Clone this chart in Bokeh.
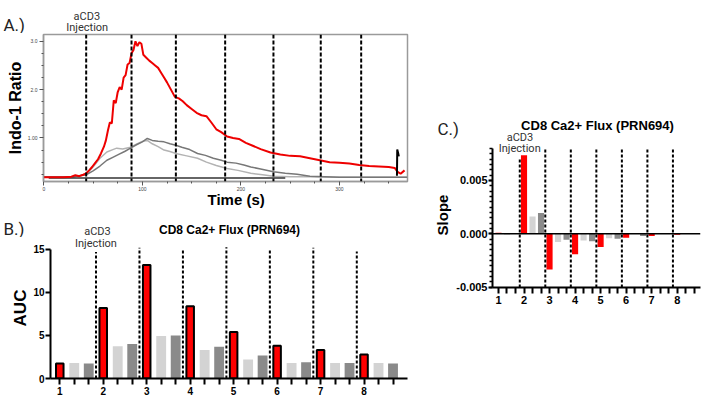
from bokeh.plotting import figure
from bokeh.layouts import row, column
from bokeh.models import Range1d, FixedTicker, Span, Title
from bokeh.core.properties import value
from bokeh.embed import file_html
from bokeh.resources import INLINE

# ---------------- Panel A: Indo-1 ratio traces ----------------
red_time = [0, 10, 20, 28, 32, 36, 40, 43, 46, 49, 52, 55, 58, 61, 63, 65, 67, 69, 71, 73,
            75, 77, 79, 81, 83, 85, 87, 89, 91, 93, 95, 97, 99, 101, 104, 107, 110, 113, 116, 119,
            122, 125, 129, 133, 137, 141, 145, 150, 155, 160, 165, 170, 175, 180, 186, 192, 198, 205, 212, 220,
            230, 240, 250, 260, 270, 280, 290, 300, 310, 320, 330, 340, 350, 356, 359, 362, 366]
red_ratio = [0.19, 0.19, 0.19, 0.20, 0.23, 0.21, 0.24, 0.27, 0.33, 0.40, 0.48, 0.56, 0.68, 0.82, 0.95, 1.15, 1.32, 1.30, 1.78, 1.72,
             1.95, 2.05, 2.00, 2.25, 2.30, 2.52, 2.55, 2.75, 2.82, 3.00, 2.90, 2.98, 2.95, 2.72, 2.66, 2.60, 2.55, 2.50, 2.45, 2.35,
             2.25, 2.15, 2.00, 1.85, 1.82, 1.76, 1.68, 1.60, 1.52, 1.47, 1.45, 1.32, 1.18, 1.12, 1.03, 1.00, 0.98, 0.90, 0.84, 0.77,
             0.70, 0.66, 0.63, 0.62, 0.58, 0.54, 0.50, 0.49, 0.47, 0.44, 0.42, 0.41, 0.40, 0.38, 0.30, 0.26, 0.33]

dgrey_time = [0, 30, 43, 50, 57, 64, 70, 76, 82, 88, 94, 100, 105, 110, 116, 122, 128, 134, 140, 148,
              156, 164, 172, 180, 186, 195, 203, 210, 220, 233, 245, 257, 270, 285, 300, 320, 340, 369]
dgrey_ratio = [0.20, 0.20, 0.24, 0.32, 0.42, 0.54, 0.60, 0.66, 0.72, 0.79, 0.86, 0.92, 0.99, 0.95, 0.93, 0.92, 0.88, 0.85, 0.81, 0.76,
               0.68, 0.64, 0.58, 0.54, 0.50, 0.48, 0.44, 0.40, 0.36, 0.30, 0.27, 0.25, 0.21, 0.20, 0.19, 0.19, 0.19, 0.19]

lgrey_time = [0, 30, 43, 50, 57, 64, 70, 74, 80, 88, 95, 100, 105, 110, 116, 122, 128, 134, 145, 156,
              165, 175, 186, 197, 210, 222, 233, 250, 270, 300, 340, 369]
lgrey_ratio = [0.20, 0.20, 0.25, 0.40, 0.58, 0.71, 0.76, 0.79, 0.77, 0.81, 0.88, 0.93, 0.95, 0.88, 0.82, 0.75, 0.72, 0.68, 0.63, 0.58,
               0.50, 0.43, 0.37, 0.33, 0.27, 0.24, 0.21, 0.20, 0.20, 0.19, 0.19, 0.19]

base_time = [5, 245]
base_ratio = [0.17, 0.17]
spike_time = [358.3, 358.6, 359.6, 360.2]
spike_ratio = [0.22, 0.76, 0.68, 0.62]

injection_times = [43, 89, 134, 184, 233, 281, 322]
a_yticks = [1, 2, 3]
a_ytick_labels = ["1.00", "2.0", "3.0"]
a_xticks = [0, 100, 200, 300]

# ---------------- Panels B and C ----------------
groups = ["1", "2", "3", "4", "5", "6", "7", "8"]
auc_red = [1.74, 8.2, 13.2, 8.4, 5.4, 3.8, 3.3, 2.8]
auc_lgrey = [1.8, 3.75, 4.94, 3.3, 2.2, 1.8, 1.8, 1.8]
auc_dgrey = [1.74, 4.0, 5.0, 3.7, 2.66, 1.9, 1.8, 1.74]
auc_line_tops = [14.7, 15.2, 14.9, 15.25, 15.0, 15.2, 14.75]
auc_yticks = [0, 5, 10, 15]

slope_red = [0.0001, 0.00738, -0.00336, -0.00193, -0.00125, -0.00037, -0.0002, -0.0001]
slope_lgrey = [-0.0001, 0.00162, -0.00078, -0.00062, -0.00041, 0.00008, -0.00003, 0.00002]
slope_dgrey = [0.00003, 0.00196, -0.00056, -0.00069, -0.00047, -0.0002, 0.00003, 0.00002]
slope_line_tops = [0.0071, 0.0079, 0.0079, 0.0079, 0.0079, 0.0079, 0.0079]
slope_yticks = [-0.005, 0.0, 0.005]
slope_ytick_labels = ["-0.005", "0.000", "0.005"]

panel_title = "CD8 Ca2+ Flux (PRN694)"

RED = "#ff0000"
LGREY = "#d3d3d3"
DGREY = "#8a8a8a"
BOLD_FONT = "Liberation Sans"
LIGHT_FONT = "Roboto"

n = len(groups)
red_pos = [3 * i + 1 for i in range(n)]
lg_pos = [3 * i + 2 for i in range(n)]
dg_pos = [3 * i + 3 for i in range(n)]
all_pos = list(range(1, 3 * n + 1))
bound_pos = [3 * i + 0.5 for i in range(1, n)]
x_overrides = {p: "" for p in all_pos}
for p, g in zip(red_pos, groups):
    x_overrides[p] = g


def text_strip(width, height):
    s = figure(width=width, height=height, x_range=Range1d(0, width), y_range=Range1d(height, 0),
               output_backend="svg", toolbar_location=None, min_border=0,
               x_axis_location=None, y_axis_location=None, frame_align=False)
    s.grid.visible = False
    s.outline_line_color = None
    s.title.visible = False
    return s


def put_text(fig, x, y, s, size, font=BOLD_FONT, bold=False, align="center", color="black"):
    fig.text(x=[x], y=[y], text=[s], text_font=value(font), text_font_size=f"{size}px",
             text_font_style="bold" if bold else "normal", text_align=align,
             text_baseline="middle", text_color=color)


def bold_axis_label(ax, text, size, standoff):
    ax.axis_label = text
    ax.axis_label_text_font = BOLD_FONT
    ax.axis_label_text_font_style = "bold"
    ax.axis_label_text_font_size = f"{size}px"
    ax.axis_label_text_color = "black"
    ax.axis_label_standoff = standoff


# ================= Header strip A (page y 0-33) =================
ha = text_strip(420, 33)
put_text(ha, 3, 24, "A.)", 17, font=LIGHT_FONT, align="left", color="#222222")
put_text(ha, 86.3, 16, "aCD3", 11, font=LIGHT_FONT, color="#333333")
put_text(ha, 86.7, 27, "Injection", 11, font=LIGHT_FONT, color="#333333")

# ================= Figure A (page y 33-210) =================
pa = figure(width=420, height=177, x_range=Range1d(-0.3, 369), y_range=Range1d(0.10, 3.14),
            output_backend="svg", toolbar_location=None, frame_align=False,
            min_border_left=43, min_border_right=13, min_border_top=1, min_border_bottom=29)
pa.grid.visible = False
pa.title.visible = False
pa.outline_line_color = "#9a9a9a"
pa.outline_line_width = 1.5

pa.line(lgrey_time, lgrey_ratio, color="#b3b3b3", line_width=1.5)
pa.line(dgrey_time, dgrey_ratio, color="#777777", line_width=1.5)
pa.line(base_time, base_ratio, color="#333333", line_width=1.5)
pa.line(red_time, red_ratio, color="#ee0000", line_width=2)
pa.line(spike_time, spike_ratio, color="black", line_width=2)
for t in injection_times:
    pa.add_layout(Span(location=t, dimension="height", line_color="black", line_width=2, line_dash="4 2"))

pa.yaxis.ticker = FixedTicker(ticks=a_yticks, minor_ticks=[0.25, 0.5, 0.75, 1.25, 1.5, 1.75, 2.25, 2.5, 2.75])
pa.yaxis.major_label_overrides = dict(zip(a_yticks, a_ytick_labels))
pa.xaxis.ticker = FixedTicker(ticks=a_xticks, minor_ticks=[25, 50, 75, 125, 150, 175, 225, 250, 275, 325, 350])
for ax in (pa.xaxis[0], pa.yaxis[0]):
    ax.axis_line_color = "#9a9a9a"
    ax.axis_line_width = 1.5
    ax.major_tick_line_color = "#555555"
    ax.minor_tick_line_color = "#555555"
    ax.major_tick_out = 4
    ax.major_tick_in = 0
    ax.minor_tick_out = 2
    ax.minor_tick_in = 0
    ax.major_label_text_font_size = "5px"
    ax.major_label_text_color = "#444444"
    ax.major_label_standoff = 2
pa.xaxis.major_label_standoff = 1
bold_axis_label(pa.yaxis[0], "Indo-1 Ratio", 16, 1)
pa.add_layout(Title(text="Time (s)", align="left", offset=164, standoff=-9, text_color="black",
                    text_font=BOLD_FONT, text_font_size="15px", text_font_style="bold"), "below")

# ================= Header strip B (page y 210-237) =================
hb = text_strip(420, 27)
put_text(hb, 3, 18, "B.)", 17, font=LIGHT_FONT, align="left", color="#222222")
put_text(hb, 229, 19, panel_title, 12, bold=True)
put_text(hb, 97, 21, "aCD3", 11, font=LIGHT_FONT, color="#333333")

# ================= Figure B (page y 237-405) =================
pb = figure(width=420, height=168, x_range=Range1d(0.36, 25.0), y_range=Range1d(0, 16.39),
            output_backend="svg", toolbar_location=None, frame_align=False,
            min_border_left=50, min_border_right=13, min_border_top=0, min_border_bottom=27)
pb.grid.visible = False
pb.title.visible = False
pb.outline_line_color = None

pb.vbar(x=lg_pos, top=auc_lgrey, width=0.68, fill_color=LGREY, line_color=None)
pb.vbar(x=dg_pos, top=auc_dgrey, width=0.68, fill_color=DGREY, line_color=None)
pb.vbar(x=red_pos, top=auc_red, width=0.52, fill_color=RED, line_color="black", line_width=2)
pb.segment(x0=bound_pos, y0=[0] * len(bound_pos), x1=bound_pos, y1=auc_line_tops,
           line_color="black", line_width=2, line_dash="3 2")
put_text(pb, bound_pos[0], 15.7, "Injection", 11, font=LIGHT_FONT, color="#333333")

pb.xaxis.ticker = FixedTicker(ticks=all_pos)
pb.xaxis.major_label_overrides = x_overrides
pb.yaxis.ticker = FixedTicker(ticks=auc_yticks)
pb.yaxis.bounds = (0, 15)
for ax in (pb.xaxis[0], pb.yaxis[0]):
    ax.axis_line_color = "black"
    ax.axis_line_width = 2
    ax.major_tick_line_color = "black"
    ax.major_tick_line_width = 2
    ax.major_tick_in = 0
    ax.minor_tick_line_color = None
    ax.major_label_text_font = BOLD_FONT
    ax.major_label_text_font_style = "bold"
    ax.major_label_text_font_size = "10px"
    ax.major_label_text_color = "black"
pb.xaxis.major_tick_out = 6
pb.xaxis.major_label_standoff = 2
pb.yaxis.major_tick_out = 5
pb.yaxis.major_label_standoff = 1
bold_axis_label(pb.yaxis[0], "AUC", 17, 0)

# ================= Header strip C (page x 420-703, y 0-142) =================
hc = text_strip(283, 142)
put_text(hc, 17, 128, "C.)", 17, font=LIGHT_FONT, align="left", color="#222222")
put_text(hc, 177, 125.3, panel_title, 13, bold=True)
put_text(hc, 99.5, 136.5, "aCD3", 11, font=LIGHT_FONT, color="#333333")

# ================= Figure C (page y 142-405) =================
pc = figure(width=283, height=263, x_range=Range1d(0.296, 24.74), y_range=Range1d(-0.00504, 0.008565),
            output_backend="svg", toolbar_location=None, frame_align=False,
            min_border_left=72, min_border_right=3, min_border_top=0, min_border_bottom=118)
pc.grid.visible = False
pc.title.visible = False
pc.outline_line_color = None

pc.vbar(x=lg_pos, top=slope_lgrey, width=0.72, fill_color=LGREY, line_color=None)
pc.vbar(x=dg_pos, top=slope_dgrey, width=0.72, fill_color=DGREY, line_color=None)
pc.vbar(x=red_pos, top=slope_red, width=0.72, fill_color=RED, line_color=None)
pc.add_layout(Span(location=0, dimension="width", line_color="black", line_width=1.5))
pc.segment(x0=bound_pos, y0=[-0.00504] * len(bound_pos), x1=bound_pos, y1=slope_line_tops,
           line_color="black", line_width=2, line_dash="3 2")
put_text(pc, bound_pos[0], 0.0080, "Injection", 11, font=LIGHT_FONT, color="#333333")

pc.xaxis.ticker = FixedTicker(ticks=all_pos)
pc.xaxis.major_label_overrides = x_overrides
slope_minor = [round(-0.005 + 0.0005 * i, 4) for i in range(27)]
pc.yaxis.ticker = FixedTicker(ticks=slope_yticks, minor_ticks=slope_minor)
pc.yaxis.major_label_overrides = dict(zip(slope_yticks, slope_ytick_labels))
pc.yaxis.bounds = (-0.00504, 0.0080)
for ax in (pc.xaxis[0], pc.yaxis[0]):
    ax.axis_line_color = "black"
    ax.axis_line_width = 2
    ax.major_tick_line_color = "black"
    ax.major_tick_line_width = 2
    ax.major_tick_in = 0
    ax.major_label_text_font = BOLD_FONT
    ax.major_label_text_font_style = "bold"
    ax.major_label_text_font_size = "11px"
    ax.major_label_text_color = "black"
pc.xaxis.minor_tick_line_color = None
pc.xaxis.major_tick_out = 6
pc.xaxis.major_label_standoff = 2
pc.yaxis.major_tick_out = 4
pc.yaxis.minor_tick_out = 3
pc.yaxis.minor_tick_in = 0
pc.yaxis.minor_tick_line_color = "black"
pc.yaxis.minor_tick_line_width = 1.5
pc.yaxis.major_label_standoff = 1
bold_axis_label(pc.yaxis[0], "Slope", 15, 2)

layout = row(column(ha, pa, hb, pb), column(hc, pc))
open("out.html", "w").write(file_html(layout, INLINE))
